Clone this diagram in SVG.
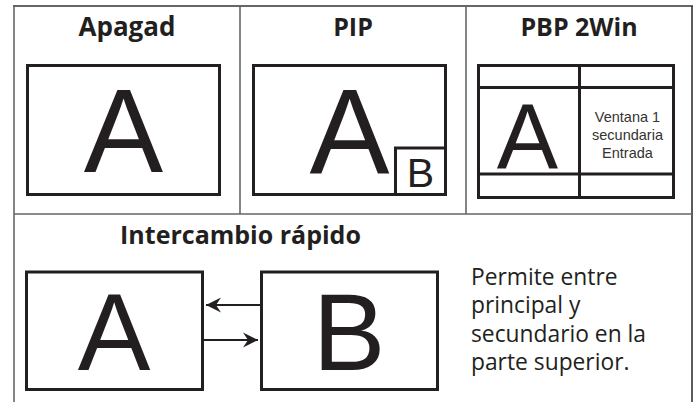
<svg xmlns="http://www.w3.org/2000/svg" width="696" height="402" viewBox="0 0 696 402">
<style>
.frame{stroke:#666;stroke-width:1.6;fill:none}
.box{stroke:#231f20;stroke-width:3;fill:#fff}
.title{font-family:"Open Sans","Liberation Sans",sans-serif;font-weight:bold;font-size:25px;fill:#231f20;text-anchor:middle}
.big{font-family:"Liberation Sans",Arial,sans-serif;fill:#231f20;text-anchor:middle}
.small{font-family:"Liberation Sans",Arial,sans-serif;font-size:14.5px;fill:#333;text-anchor:middle}
.desc{font-family:"Open Sans","Liberation Sans",sans-serif;font-size:22.8px;fill:#231f20}
.conn{stroke:#231f20;stroke-width:2;fill:none}
</style>
<defs>
<marker id="ah" viewBox="-16 -8 17 16" refX="0" refY="0" markerWidth="17" markerHeight="16" markerUnits="userSpaceOnUse" orient="auto">
<path d="M0,0 L-15,-7.5 L-10,0 L-15,7.5 Z" fill="#231f20"/>
</marker>
</defs>
<rect width="696" height="402" fill="#fff"/>
<g id="frame">
<line class="frame" x1="13" y1="6" x2="693" y2="6" style="stroke:#333"/>
<line class="frame" x1="14" y1="6" x2="14" y2="402"/>
<line class="frame" x1="692" y1="6" x2="692" y2="402" style="stroke:#333"/>
<line class="frame" x1="14" y1="214" x2="692" y2="214"/>
<line class="frame" x1="240" y1="6" x2="240" y2="214"/>
<line class="frame" x1="466" y1="6" x2="466" y2="214"/>
</g>
<g id="apagad">
<text class="title" x="127" y="36" style="font-size:26px">Apagad</text>
<rect class="box" x="27.5" y="65.5" width="192" height="129"/>
<text class="big" x="123.5" y="172" font-size="119">A</text>
</g>
<g id="pip">
<text class="title" x="353" y="36">PIP</text>
<rect class="box" x="253.5" y="65.5" width="192" height="129"/>
<text class="big" x="349.5" y="173" font-size="120">A</text>
<rect class="box" x="395.5" y="148" width="50" height="46.5"/>
<text class="big" x="420.5" y="186.5" font-size="41">B</text>
</g>
<g id="pbp">
<text class="title" x="579" y="36">PBP 2Win</text>
<rect class="box" x="478.5" y="65.5" width="195" height="132"/>
<line class="box" x1="579.5" y1="65.5" x2="579.5" y2="197.5"/>
<line class="box" x1="478.5" y1="87.5" x2="673.5" y2="87.5"/>
<line class="box" x1="478.5" y1="174" x2="673.5" y2="174"/>
<text class="big" x="527.5" y="168.5" font-size="92">A</text>
<text class="small" x="627.5" y="121.5">Ventana 1</text>
<text class="small" x="627.5" y="139.5">secundaria</text>
<text class="small" x="627.5" y="157.5">Entrada</text>
</g>
<g id="swap">
<text class="title" x="240.5" y="244">Intercambio rápido</text>
</g>
<g id="boxA">
<rect class="box" x="26.5" y="272" width="176" height="117.5"/>
<text class="big" x="114" y="370" font-size="109">A</text>
</g>
<g id="boxB">
<rect class="box" x="261.5" y="272" width="176" height="117.5"/>
<text class="big" x="349" y="370" font-size="109">B</text>
</g>
<g id="connectors">
<line class="conn" x1="260" y1="305" x2="206" y2="305" marker-end="url(#ah)"/>
<line class="conn" x1="203" y1="340" x2="258" y2="340" marker-end="url(#ah)"/>
</g>
<g id="description">
<text class="desc" x="471" y="285">Permite entre</text>
<text class="desc" x="471" y="313.3">principal y</text>
<text class="desc" x="471" y="341.6">secundario en la</text>
<text class="desc" x="471" y="370">parte superior.</text>
</g>
</svg>
